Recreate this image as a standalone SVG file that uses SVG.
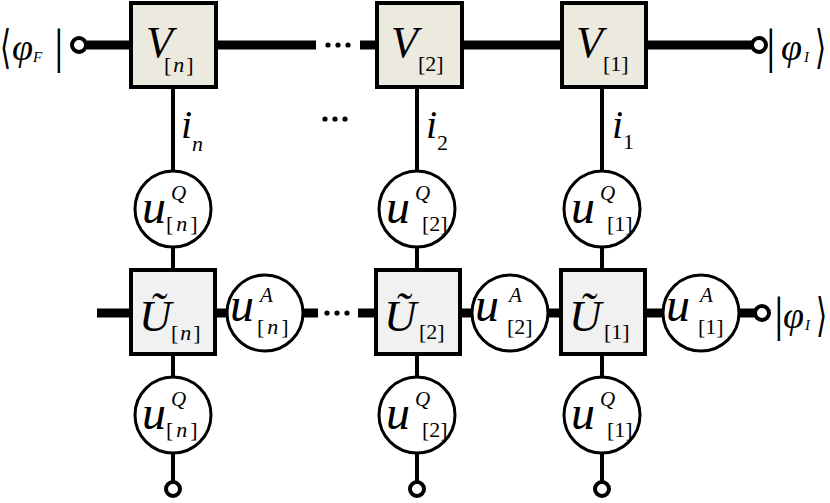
<svg xmlns="http://www.w3.org/2000/svg" width="830" height="503" viewBox="0 0 830 503" font-family="'Liberation Serif','Times New Roman',serif">
<style>
.w{stroke:#000;stroke-width:9;fill:none}
.v{stroke:#000;stroke-width:4;fill:none}
.vbox{fill:#ECEADF;stroke:#000;stroke-width:4}
.ubox{fill:#F1F1F1;stroke:#000;stroke-width:4}
.c{fill:#fff;stroke:#000;stroke-width:3}
.t{fill:#fff;stroke:#000;stroke-width:4}
.dot{fill:#000}
text{font-family:"Liberation Serif","Times New Roman",serif;fill:#000}
.it{font-style:italic}
.big{font-size:44px}
.U{font-size:45px}
.u{font-size:48px}
.sub{font-size:22px}
.sup{font-size:21px}
.bar{font-size:48px}
.br{font-size:46px;font-family:"DejaVu Sans","Liberation Serif",sans-serif}
</style>
<rect width="830" height="503" fill="#fff"/>
<g id="connectors">
<path class="w" d="M87 45H131M216 45H316M360 45H377M462 45H562M646 45H752"/>
<path class="w" d="M97 313H131M215 313H228M302 313H318M358 313H376M460 313H472M548 313H561M645 313H664M738 313H755"/>
<path class="v" d="M173 87V171M173 247V270M173 354V377M173 453V483"/>
<path class="v" d="M417 87V171M417 247V270M417 354V377M417 453V483"/>
<path class="v" d="M602 87V171M602 247V270M602 354V377M602 453V483"/>
<circle class="dot" cx="328" cy="45" r="2.6"/><circle class="dot" cx="338" cy="45" r="2.6"/><circle class="dot" cx="348" cy="45" r="2.6"/>
<circle class="dot" cx="325" cy="119" r="2.6"/><circle class="dot" cx="335" cy="119" r="2.6"/><circle class="dot" cx="345" cy="119" r="2.6"/>
<circle class="dot" cx="327" cy="313" r="2.6"/><circle class="dot" cx="337" cy="313" r="2.6"/><circle class="dot" cx="347" cy="313" r="2.6"/>
</g>
<g id="term-F"><circle class="t" cx="79" cy="45" r="7"/>
<text class="br" transform="translate(0 63) scale(0.62 1)">⟨</text><text x="12" y="60" class="it" font-size="38">φ</text><text x="33" y="62" class="it" font-size="15">F</text><text x="54" y="63" class="bar">|</text></g>
<g id="term-I-top"><circle class="t" cx="759" cy="45" r="7"/>
<text x="766" y="63" class="bar">|</text><text x="781" y="60" class="it" font-size="38">φ</text><text x="804" y="62" class="it" font-size="15">I</text><text class="br" transform="translate(815 63) scale(0.62 1)">⟩</text></g>
<g id="term-I-mid"><circle class="t" cx="762" cy="313" r="7"/>
<text x="774" y="331" class="bar">|</text><text x="783" y="328" class="it" font-size="38">φ</text><text x="805" y="330" class="it" font-size="15">I</text><text class="br" transform="translate(816 331) scale(0.62 1)">⟩</text></g>
<g id="Vn"><rect class="vbox" x="131" y="3" width="85" height="84"/><text x="146" y="57" class="it big">V</text><text x="164" y="72" class="sub">[<tspan dx="2" class="it">n</tspan><tspan dx="2">]</tspan></text></g>
<g id="V2"><rect class="vbox" x="377" y="3" width="85" height="84"/><text x="391" y="57" class="it big">V</text><text x="418" y="71" class="sub">[2]</text></g>
<g id="V1"><rect class="vbox" x="562" y="3" width="84" height="84"/><text x="576" y="57" class="it big">V</text><text x="603" y="71" class="sub">[1]</text></g>
<g id="in"><text x="181" y="138" class="it" font-size="40">i</text><text x="192" y="151" class="it sub">n</text></g>
<g id="i2"><text x="426" y="138" class="it" font-size="40">i</text><text x="437" y="150" class="sub">2</text></g>
<g id="i1"><text x="612" y="138" class="it" font-size="40">i</text><text x="623" y="149" class="sub">1</text></g>
<g id="uQn-top"><circle class="c" cx="173" cy="209" r="38"/><text x="142" y="223" class="it u">u</text><text x="171" y="200" class="it sup">Q</text><text x="166" y="231" class="sub">[<tspan dx="3" class="it">n</tspan><tspan dx="3">]</tspan></text></g>
<g id="uQ2-top"><circle class="c" cx="417" cy="209" r="38"/><text x="386" y="223" class="it u">u</text><text x="415" y="200" class="it sup">Q</text><text x="422" y="231" class="sub">[2]</text></g>
<g id="uQ1-top"><circle class="c" cx="602" cy="209" r="38"/><text x="571" y="223" class="it u">u</text><text x="600" y="200" class="it sup">Q</text><text x="607" y="231" class="sub">[1]</text></g>
<g id="Un"><rect class="ubox" x="131" y="270" width="84" height="84"/><text x="139" y="331" class="it U">Ũ</text><text x="171" y="340" class="sub">[<tspan dx="2" class="it">n</tspan><tspan dx="2">]</tspan></text></g>
<g id="U2"><rect class="ubox" x="376" y="270" width="84" height="84"/><text x="384" y="331" class="it U">Ũ</text><text x="419" y="339" class="sub">[2]</text></g>
<g id="U1"><rect class="ubox" x="561" y="270" width="84" height="84"/><text x="569" y="331" class="it U">Ũ</text><text x="604" y="339" class="sub">[1]</text></g>
<g id="uAn"><circle class="c" cx="265" cy="313" r="38"/><text x="230" y="321" class="it u">u</text><text x="260" y="302" class="it sup">A</text><text x="257" y="334" class="sub">[<tspan dx="3" class="it">n</tspan><tspan dx="3">]</tspan></text></g>
<g id="uA2"><circle class="c" cx="510" cy="313" r="38"/><text x="475" y="321" class="it u">u</text><text x="509" y="302" class="it sup">A</text><text x="507" y="334" class="sub">[2]</text></g>
<g id="uA1"><circle class="c" cx="701" cy="313" r="38"/><text x="666" y="321" class="it u">u</text><text x="700" y="302" class="it sup">A</text><text x="698" y="334" class="sub">[1]</text></g>
<g id="uQn-bot"><circle class="c" cx="173" cy="415" r="38"/><text x="142" y="429" class="it u">u</text><text x="171" y="406" class="it sup">Q</text><text x="166" y="437" class="sub">[<tspan dx="3" class="it">n</tspan><tspan dx="3">]</tspan></text></g>
<g id="uQ2-bot"><circle class="c" cx="417" cy="415" r="38"/><text x="386" y="429" class="it u">u</text><text x="415" y="406" class="it sup">Q</text><text x="422" y="437" class="sub">[2]</text></g>
<g id="uQ1-bot"><circle class="c" cx="602" cy="415" r="38"/><text x="571" y="429" class="it u">u</text><text x="600" y="406" class="it sup">Q</text><text x="607" y="437" class="sub">[1]</text></g>
<g id="tn"><circle class="t" cx="173" cy="489" r="7"/></g>
<g id="t2"><circle class="t" cx="417" cy="489" r="7"/></g>
<g id="t1"><circle class="t" cx="602" cy="489" r="7"/></g>
</svg>
